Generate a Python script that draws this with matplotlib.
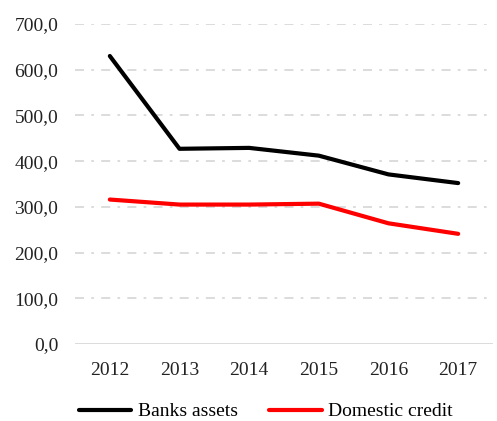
import matplotlib
matplotlib.use("Agg")
import matplotlib.pyplot as plt

years = ["2012", "2013", "2014", "2015", "2016", "2017"]
banks_assets = [630.0, 427.0, 429.0, 412.0, 371.0, 352.0]
domestic_credit = [316.0, 305.0, 305.0, 307.0, 264.0, 241.0]
yticks = [0, 100, 200, 300, 400, 500, 600, 700]

plt.rcParams['font.family'] = ['Liberation Serif', 'DejaVu Serif']

fig = plt.figure(figsize=(4.97, 4.21), dpi=100)
ax = fig.add_axes([75/497, 1-344/421, (493-75)/497, (344-24)/421])

x = list(range(len(years)))
ax.plot(x, banks_assets, color='black', lw=3, label='Banks assets', solid_capstyle='round', solid_joinstyle='round')
ax.plot(x, domestic_credit, color='#ff0000', lw=3, label='Domestic credit', solid_capstyle='round', solid_joinstyle='round')

ax.set_xlim(-0.5, len(years) - 0.5)
ax.set_ylim(0, 700)
ax.set_yticks(yticks)
ax.set_yticklabels([f"{v:.1f}".replace('.', ',') for v in yticks], fontsize=14, color='#222222')
ax.set_xticks(x)
ax.set_xticklabels(years, fontsize=14, color='#222222')
ax.tick_params(axis='both', length=0)
ax.tick_params(axis='y', pad=12)
ax.tick_params(axis='x', pad=13)

for v in yticks[1:]:
    ax.axhline(v, color='#d9d9d9', lw=1.3, dashes=(5, 4, 1.5, 4), zorder=0)
ax.axhline(0, color='#d9d9d9', lw=1.3, zorder=0)

for s in ax.spines.values():
    s.set_visible(False)

fig.legend(loc='lower center', bbox_to_anchor=(0.535, -0.04), ncol=2, frameon=False,
           fontsize=14, handlelength=2.7, columnspacing=1.6, handletextpad=0.35)

fig.savefig('out.png', dpi=100)
